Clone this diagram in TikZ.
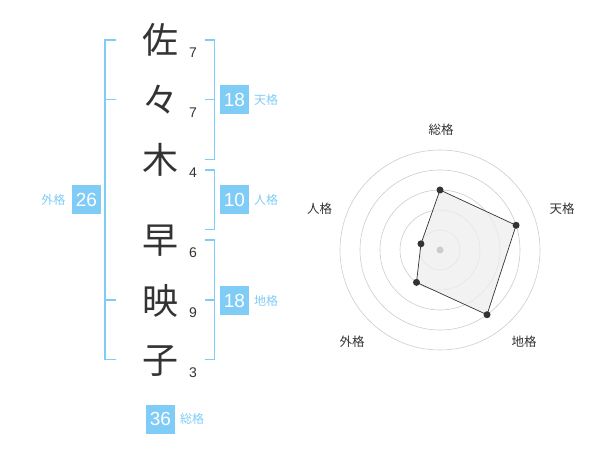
\documentclass[tikz,border=0pt]{standalone}
\usepackage{fontspec}
\setmainfont{Liberation Sans}
\newfontfamily\cjk{Noto Sans CJK JP}
\definecolor{sky}{HTML}{7FCCF7}
\definecolor{ink}{HTML}{333333}
\definecolor{ring}{HTML}{CCCCCC}
\definecolor{area}{HTML}{EEEEEE}
\begin{document}
\begin{tikzpicture}[x=1pt,y=-1pt,
  kanji/.style={font=\cjk\fontsize{36}{36}\selectfont,text=ink,inner sep=0pt},
  strokes/.style={font=\fontsize{14}{14}\selectfont,text=ink,inner sep=0pt},
  valbox/.style={fill=sky,text=white,minimum width=29pt,minimum height=29pt,inner sep=0pt,font=\fontsize{19}{19}\selectfont},
  vallabel/.style={text=sky,font=\cjk\fontsize{12}{12}\selectfont,inner sep=0pt},
  bracket/.style={draw=sky,line width=1.8pt},
  axislabel/.style={text=ink,font=\cjk\fontsize{12.5}{12.5}\selectfont,inner sep=0pt},
  pt/.style={circle,fill=ink,inner sep=0pt,minimum size=7pt}]
\useasboundingbox (0,0) rectangle (600,470);
% characters
\node[kanji] (c1) at (160,40) {佐};
\node[kanji] (c2) at (160,100) {々};
\node[kanji] (c3) at (160,160) {木};
\node[kanji] (c4) at (160,241) {早};
\node[kanji] (c5) at (160,301) {映};
\node[kanji] (c6) at (160,361) {子};
% strokes
\node[strokes] (s1) at (193,53) {7};
\node[strokes] (s2) at (193,113) {7};
\node[strokes] (s3) at (193,173) {4};
\node[strokes] (s4) at (193,253) {6};
\node[strokes] (s5) at (193,313) {9};
\node[strokes] (s6) at (193,373) {3};
% brackets
\draw[bracket] (116,40) -- (105,40) -- (105,359.5) -- (116,359.5);
\draw[bracket] (105,99.5) -- (116,99.5);
\draw[bracket] (105,300) -- (116,300);
\draw[bracket] (205,40) -- (214.5,40) -- (214.5,159.5) -- (205,159.5);
\draw[bracket] (205,99.5) -- (214.5,99.5);
\draw[bracket] (205,170) -- (214.5,170) -- (214.5,229.5) -- (205,229.5);
\draw[bracket] (205,240) -- (214.5,240) -- (214.5,359.5) -- (205,359.5);
\draw[bracket] (205,300) -- (214.5,300);
% value boxes
\node[valbox] (ten) at (234.5,100) {18};
\node[vallabel,anchor=west] (tenl) at (254,100) {天格};
\node[valbox] (jin) at (234.5,200) {10};
\node[vallabel,anchor=west] (jinl) at (254,200) {人格};
\node[valbox] (chi) at (234.5,300.5) {18};
\node[vallabel,anchor=west] (chil) at (254,300.5) {地格};
\node[valbox] (gai) at (86.5,200) {26};
\node[vallabel,anchor=east] (gail) at (65.5,200) {外格};
\node[valbox] (sou) at (160.5,419) {36};
\node[vallabel,anchor=west] (soul) at (180,419) {総格};
% radar
\begin{scope}[shift={(440,250)},yscale=-1]
  \foreach \r in {100,80,60,40,20} \draw[ring,line width=0.6pt] (0,0) circle (\r);
  \coordinate (p1) at (90:60);
  \coordinate (p2) at (18:80);
  \coordinate (p3) at (-54:80);
  \coordinate (p4) at (-126:40);
  \coordinate (p5) at (162:20);
  \fill[area,opacity=0.75] (p1) -- (p2) -- (p3) -- (p4) -- (p5) -- cycle;
  \draw[ink,line width=0.7pt] (p1) -- (p2) -- (p3) -- (p4) -- (p5) -- cycle;
  \node[circle,fill=ring,inner sep=0pt,minimum size=7pt] (ctr) at (0,0) {};
  \foreach \p in {p1,p2,p3,p4,p5} \node[pt] at (\p) {};
\end{scope}
\node[axislabel] (a1) at (441,130) {総格};
\node[axislabel] (a2) at (562,208.5) {天格};
\node[axislabel] (a3) at (524,342) {地格};
\node[axislabel] (a4) at (352,342) {外格};
\node[axislabel] (a5) at (319.5,208.5) {人格};
\end{tikzpicture}
\end{document}
